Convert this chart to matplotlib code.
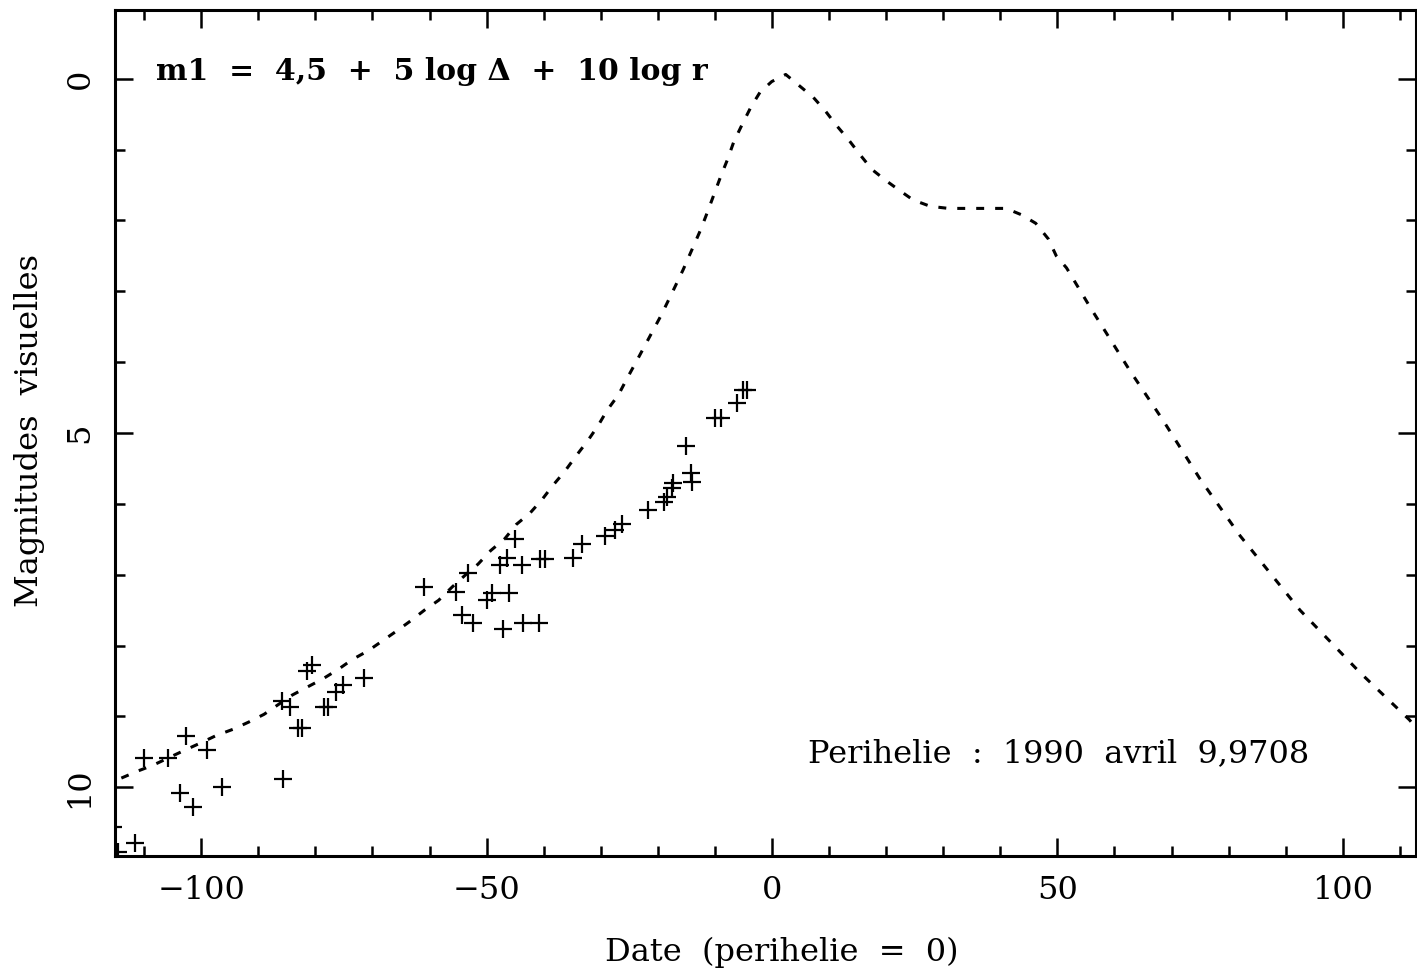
# -*- coding: utf-8 -*-
"""Courbe de lumiere de la comete : magnitudes visuelles autour du perihelie."""
import matplotlib
matplotlib.use('Agg')
import matplotlib.pyplot as plt
from matplotlib.ticker import MultipleLocator

# Courbe calculee m1 = 4,5 + 5 log D + 10 log r (jours depuis le perihelie, magnitude)
jours_calc = [-114.0, -111.1, -108.5, -103.0, -100.0, -97.4, -94.4, -91.7, -89.0,
              -84.1, -81.3, -78.7, -75.9, -73.6, -70.7, -68.2, -65.7, -63.3, -60.9,
              -58.4, -56.0, -53.4, -51.5, -49.3, -46.8, -44.8, -42.4, -40.3, -38.4,
              -36.3, -34.3, -32.3, -30.5, -28.9, -26.9, -25.4, -23.5, -21.5, -19.5,
              -17.5, -15.6, -13.8, -12.5, -11.4, -10.2, -9.0, -7.8, -6.7, -5.2, -3.7,
              -2.1, -0.05, 2.4, 4.8, 7.2, 9.3, 11.3, 13.4, 15.4, 17.5, 20.0, 22.4,
              24.7, 27.7, 30.9, 34.3, 37.6, 41.0, 43.7, 46.2, 48.4, 49.8, 51.6, 55.7,
              62.7, 68.5, 75.0, 82.0, 92.5, 103.0, 111.7, 113.0]
mag_calc = [9.87, 9.77, 9.69, 9.48, 9.37, 9.27, 9.18, 9.08, 8.97,
            8.70, 8.58, 8.47, 8.33, 8.20, 8.07, 7.93, 7.79, 7.65, 7.50,
            7.36, 7.17, 6.98, 6.85, 6.66, 6.49, 6.29, 6.13, 5.94, 5.74,
            5.54, 5.32, 5.11, 4.90, 4.68, 4.46, 4.23, 3.95, 3.65, 3.35,
            3.02, 2.70, 2.37, 2.13, 1.90, 1.64, 1.38, 1.14, 0.89, 0.64, 0.40,
            0.19, 0.04, -0.06, 0.10, 0.26, 0.45, 0.66, 0.86, 1.07, 1.28, 1.44, 1.58,
            1.71, 1.80, 1.83, 1.83, 1.83, 1.83, 1.92, 2.04, 2.26, 2.50, 2.67, 3.22,
            4.12, 4.82, 5.65, 6.45, 7.50, 8.38, 9.05, 9.18]

# Observations visuelles
jours_obs = [-115.5, -114.6, -111.6, -110.0, -105.8, -102.7, -99.0, -103.7, -101.5,
             -96.4, -85.7, -85.9, -84.4, -83.0, -82.4, -81.5, -80.6, -78.5, -77.8,
             -76.4, -75.1, -71.4, -61.0, -55.4, -54.4, -52.4, -53.2, -50.0, -49.0,
             -46.0, -47.1, -43.7, -40.9, -47.7, -46.5, -43.8, -45.0, -40.6, -39.8,
             -34.9, -33.3, -29.2, -27.5, -26.3, -21.8, -19.0, -18.4, -17.6, -17.3,
             -15.1, -14.2, -14.1, -10.0, -9.0, -6.2, -5.0, -4.3]
mag_obs = [10.56, 10.91, 10.79, 9.58, 9.58, 9.28, 9.48, 10.08, 10.28,
           9.99, 9.88, 8.78, 8.86, 9.17, 9.17, 8.36, 8.28, 8.86, 8.86,
           8.66, 8.55, 8.46, 7.17, 7.25, 7.57, 7.68, 6.98, 7.36, 7.26,
           7.26, 7.77, 7.68, 7.68, 6.86, 6.77, 6.86, 6.49, 6.78, 6.78,
           6.77, 6.57, 6.46, 6.37, 6.29, 6.08, 5.98, 5.91, 5.78, 5.71,
           5.19, 5.57, 5.69, 4.79, 4.79, 4.58, 4.39, 4.39]

fig = plt.figure(figsize=(14.17, 9.71), dpi=100)
ax = fig.add_axes([0.0812, 0.1184, 0.918, 0.8713])

ax.plot(jours_calc, mag_calc, color='black', lw=2.2, ls=(0, (2.6, 3.6)))
ax.plot(jours_obs, mag_obs, ls='none', marker='+', ms=13, mew=1.6, color='black')

ax.set_xticks([-100, -50, 0, 50, 100])
ax.set_xticklabels(['\u2212100', '\u221250', '0', '50', '100'])
ax.xaxis.set_minor_locator(MultipleLocator(10))
ax.yaxis.set_major_locator(MultipleLocator(5))
ax.yaxis.set_minor_locator(MultipleLocator(1))
ax.set_xlim(-115.1, 112.8)
ax.set_ylim(10.97, -0.97)

ax.tick_params(which='both', direction='in', top=True, right=True, width=1.8)
ax.tick_params(which='major', length=13)
ax.tick_params(which='minor', length=7)
ax.tick_params(axis='x', which='major', pad=14, labelsize=23)
ax.tick_params(axis='y', which='major', pad=14, labelsize=23, labelrotation=90)
for lab in ax.get_yticklabels():
    lab.set_va('center')
for lab in ax.get_xticklabels() + ax.get_yticklabels():
    lab.set_family('DejaVu Serif')
for s in ax.spines.values():
    s.set_linewidth(2.2)

fig.text(0.552, 0.003, 'Date  (perihelie  =  0)', ha='center', va='bottom',
         fontsize=23, family='DejaVu Serif')
fig.text(0.021, 0.557, 'Magnitudes  visuelles', ha='center', va='center',
         rotation=90, fontsize=23, family='DejaVu Serif')

ax.text(-108, -0.1, 'm1  =  4,5  +  5 log \u0394  +  10 log r', ha='left', va='center',
        fontsize=21.5, fontweight='bold', family='DejaVu Serif')
ax.text(6.3, 9.52, 'Perihelie  :  1990  avril  9,9708', ha='left', va='center',
        fontsize=23, family='DejaVu Serif')

fig.savefig('out.png', dpi=100)
